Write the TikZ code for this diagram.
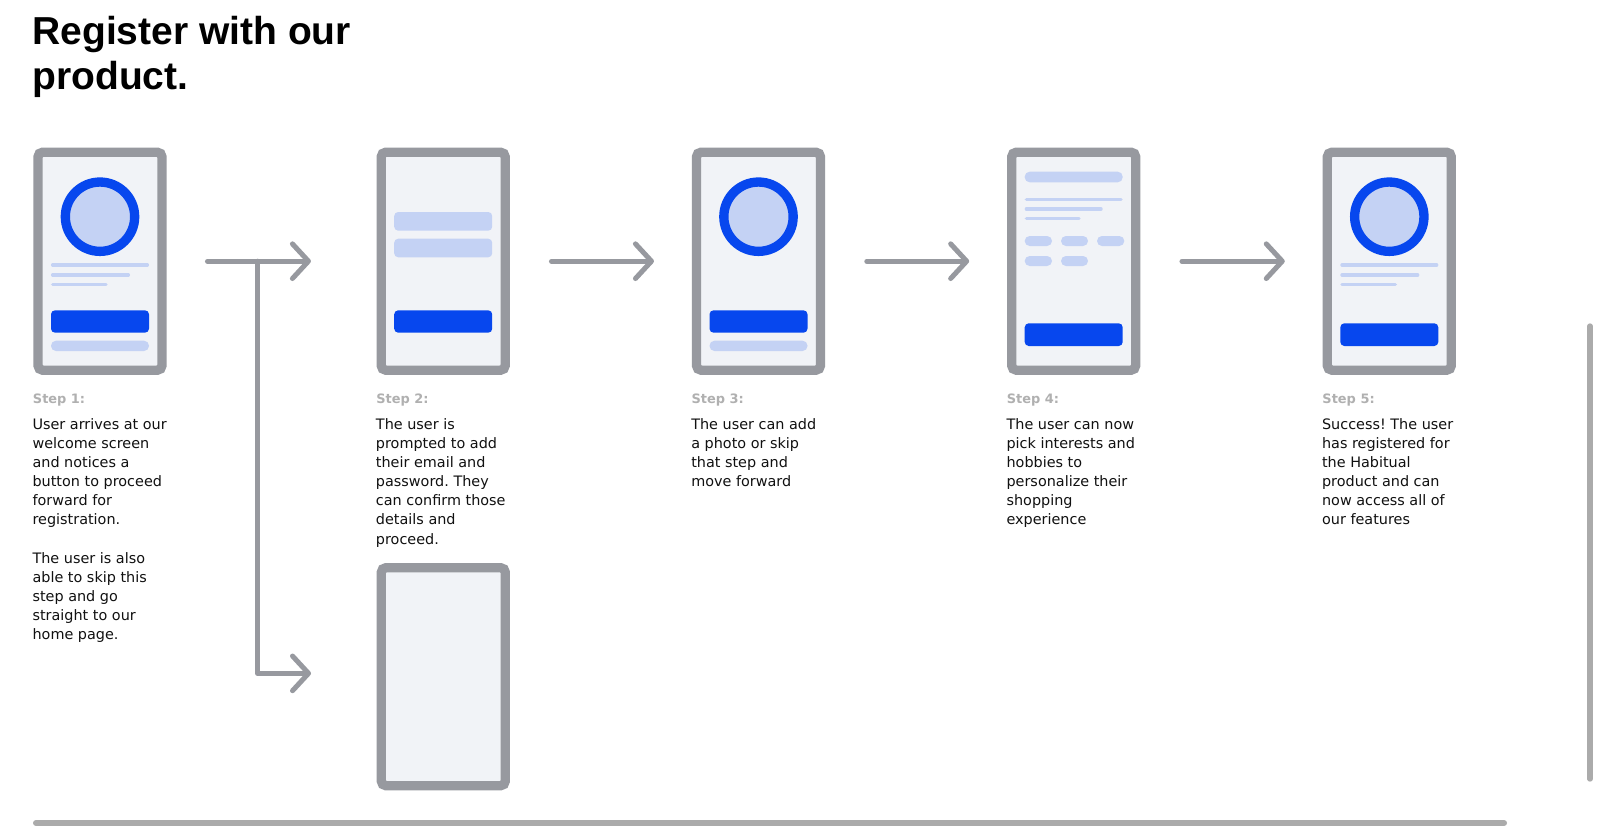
\documentclass[tikz,border=0pt]{standalone}
\usepackage{fontspec}
\setmainfont{DejaVu Sans}
\newfontfamily\titlefont{Liberation Sans}
\usetikzlibrary{arrows.meta}
\definecolor{framegray}{HTML}{97999F}
\definecolor{screen}{HTML}{F1F3F7}
\definecolor{lightblue}{HTML}{C4D2F4}
\definecolor{brandblue}{HTML}{0747EE}
\definecolor{stepgray}{HTML}{B0B0B0}
\definecolor{barsgray}{HTML}{ABABAB}
\definecolor{ink}{HTML}{111111}
\frenchspacing
\begin{document}
\begin{tikzpicture}[x=0.75pt,y=-0.75pt,
  phone/.style={draw=framegray, fill=screen, line width=7pt, rounded corners=3.5pt,
    minimum width=93pt, minimum height=163.5pt, inner sep=0pt, outer sep=0pt},
  avatar/.style={circle, draw=brandblue, fill=lightblue, line width=7pt,
    minimum size=52pt, inner sep=0pt},
  textline/.style={lightblue, line width=2.6pt, line cap=round},
  cta/.style={fill=brandblue, rounded corners=3pt},
  field/.style={fill=lightblue, rounded corners=3pt},
  pill/.style={fill=lightblue, rounded corners=3.7pt},
  flow/.style={draw=framegray, line width=3.75pt, line cap=round, line join=round,
    -{Straight Barb[length=12pt, width=26pt, round]}},
  titletext/.style={font=\titlefont\bfseries\fontsize{29.25}{33.75}\selectfont,
    anchor=base west, align=left, inner sep=0pt, text=black},
  steplabel/.style={font=\bfseries\fontsize{9.7}{12}\selectfont, text=stepgray,
    anchor=base west, inner sep=0pt},
  desc/.style={font=\frenchspacing\fontsize{10.8}{14.3}\selectfont, text=ink,
    anchor=north west, align=left, inner sep=0pt},
  scrollbar/.style={barsgray, line cap=round}
]
\useasboundingbox[fill=white] (0,0) rectangle (1598,831);

% title (anchored at the baseline of its last line)
\node[titletext] (title) at (32.2,90) {Register with our\\product.};

% phones
\node[phone] (p1) at (100,261.2) {};
\node[phone] (p2) at (443.2,261.2) {};
\node[phone] (p3) at (758.5,261.2) {};
\node[phone] (p4) at (1073.7,261.2) {};
\node[phone] (p5) at (1389.3,261.2) {};
\node[phone] (p2b) at (443.3,676.7) {};

% phone 1 contents
\begin{scope}[shift={(p1.center)}]
  \node[avatar] (p1av) at (0,-44.5) {};
  \draw[textline] (-47.3,3.8) -- (47.3,3.8);
  \draw[textline] (-47.3,13.8) -- (28.3,13.8);
  \draw[textline] (-47.3,23.1) -- (6,23.1);
  \fill[cta] (-49,49.1) rectangle (49,71.5);
  \fill[pill] (-49,79.5) rectangle (49,89.8);
\end{scope}

% phone 2 contents
\begin{scope}[shift={(p2.center)}]
  \fill[field] (-49,-49.2) rectangle (49,-30.5);
  \fill[field] (-49,-22.5) rectangle (49,-3.9);
  \fill[cta] (-49,49.1) rectangle (49,71.5);
\end{scope}

% phone 3 contents
\begin{scope}[shift={(p3.center)}]
  \node[avatar] (p3av) at (0,-44.5) {};
  \fill[cta] (-49,49.1) rectangle (49,71.5);
  \fill[pill] (-49,79.5) rectangle (49,89.8);
\end{scope}

% phone 4 contents
\begin{scope}[shift={(p4.center)}]
  \fill[pill] (-49,-89.5) rectangle (49,-78.9);
  \draw[textline] (-47.3,-61.9) -- (47.3,-61.9);
  \draw[textline] (-47.3,-52.2) -- (27.3,-52.2);
  \draw[textline] (-47.3,-42.5) -- (5.3,-42.5);
  \fill[pill] (-49,-25.2) rectangle (-21.7,-15.2);
  \fill[pill] (-12.7,-25.2) rectangle (14.3,-15.2);
  \fill[pill] (23.3,-25.2) rectangle (50.6,-15.2);
  \fill[pill] (-49,-5.2) rectangle (-21.7,4.8);
  \fill[pill] (-12.7,-5.2) rectangle (14.3,4.8);
  \fill[cta] (-49,62.1) rectangle (49,84.8);
\end{scope}

% phone 5 contents
\begin{scope}[shift={(p5.center)}]
  \node[avatar] (p5av) at (0,-44.5) {};
  \draw[textline] (-47.3,3.8) -- (47.3,3.8);
  \draw[textline] (-47.3,13.8) -- (28.3,13.8);
  \draw[textline] (-47.3,23.1) -- (6,23.1);
  \fill[cta] (-49,62.1) rectangle (49,84.8);
\end{scope}

% connectors
\coordinate (fork) at (257.8,261.2);
\draw[flow, shorten <=34.1pt, shorten >=52.7pt] (p1.east) -- (p2.west);
\draw[flow, shorten >=52.7pt] (fork) |- ([yshift=2.5pt]p2b.west);
\draw[flow, shorten <=34.7pt, shorten >=31.9pt] (p2.east) -- (p3.west);
\draw[flow, shorten <=34.7pt, shorten >=31.9pt] (p3.east) -- (p4.west);
\draw[flow, shorten <=34.7pt, shorten >=31.9pt] (p4.east) -- (p5.west);

% step labels
\node[steplabel] (s1) at (32.7,403.3) {Step 1:};
\node[steplabel] (s2) at (376.1,403.3) {Step 2:};
\node[steplabel] (s3) at (691.4,403.3) {Step 3:};
\node[steplabel] (s4) at (1006.6,403.3) {Step 4:};
\node[steplabel] (s5) at (1322.2,403.3) {Step 5:};

% descriptions (top = first baseline minus strut height)
\node[desc] (d1) at (32.3,416) {\strut User arrives at our\\welcome screen\\and notices a\\button to proceed\\forward for\\registration.\\[14.3pt]The user is also\\able to skip this\\step and go\\straight to our\\home page.};
\node[desc] (d2) at (375.7,416) {\strut The user is\\prompted to add\\their email and\\password. They\\can confirm those\\details and\\proceed.};
\node[desc] (d3) at (691,416) {\strut The user can add\\a photo or skip\\that step and\\move forward};
\node[desc] (d4) at (1006.3,416) {\strut The user can now\\pick interests and\\hobbies to\\personalize their\\shopping\\experience};
\node[desc] (d5) at (1321.8,416) {\strut Success! The user\\has registered for\\the Habitual\\product and can\\now access all of\\our features};

% scrollbars
\draw[scrollbar, line width=4.5pt] (36,823) -- (1504,823);
\draw[scrollbar, line width=4pt] (1590,326) -- (1590,779);
\end{tikzpicture}
\end{document}
